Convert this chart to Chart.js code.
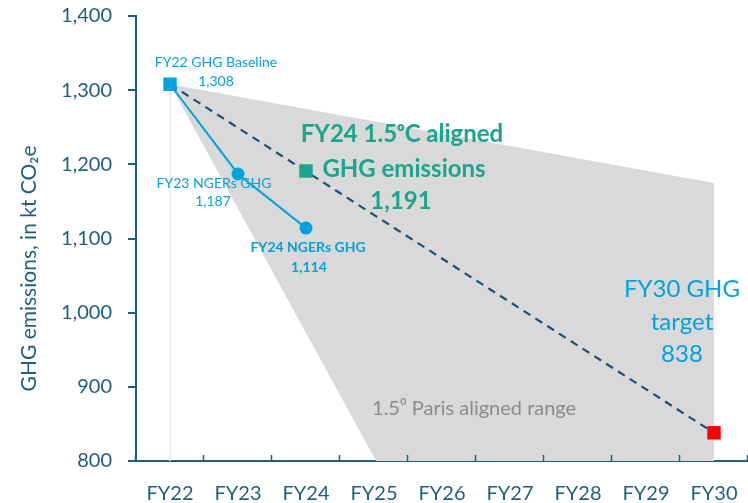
<!DOCTYPE html>
<html>
<head>
<meta charset="utf-8">
<script src="https://cdn.jsdelivr.net/npm/chart.js@4"></script>
<style>
  html, body { margin: 0; padding: 0; background: #fff; }
  #wrap { width: 748px; height: 503px; }
</style>
</head>
<body>
<div id="wrap"><canvas id="ghgChart" width="748" height="503"></canvas></div>
<script>
// categories
const fyLabels = ['FY22', 'FY23', 'FY24', 'FY25', 'FY26', 'FY27', 'FY28', 'FY29', 'FY30'];

// reported NGERs emissions, FY22..FY24
const ngersValues = [1308, 1187, 1114];
// 1.5C aligned pathway (FY22 baseline -> FY30 target)
const pathwayFY = ['FY22', 'FY30'];
const pathwayValues = [1308, 838];
const fy24Aligned = 1191;
const fy30Target = 838;

// 1.5 Paris aligned range (outline, x in category index)
const parisX = [0, 8, 8, 3.03, 0];
const parisY = [1308, 1175, 800, 800, 1308];

// y ticks
const yTicks = [800, 900, 1000, 1100, 1200, 1300, 1400];

const axisColor = '#1d5f80';
const lightBlue = '#00a3e0';
const green = '#1aa58e';

const idx = fy => fyLabels.indexOf(fy);
const fmt = v => v.toLocaleString('en-US');

const annotations = {
    id: 'annotations',
    afterDatasetsDraw(chart) {
        const {ctx, scales: {x, y}, chartArea} = chart;
        const px = (i, v) => [x.getPixelForValue(i), y.getPixelForValue(v)];
        const text = (str, cx, cy, font, color, align) => {
            ctx.font = font;
            ctx.fillStyle = color;
            ctx.textAlign = align || 'center';
            ctx.textBaseline = 'middle';
            ctx.fillText(str, cx, cy);
        };
        ctx.save();
        let [bx, by] = px(0, ngersValues[0]);
        text('FY22 GHG Baseline', bx + 46, by - 22, '14px Lato', lightBlue);
        text(fmt(ngersValues[0]), bx + 46, by - 3, '14px Lato', lightBlue);

        let [ax, ay] = px(1, ngersValues[1]);
        text('FY23 NGERs GHG', ax - 24, ay + 10, '14px Lato', lightBlue);
        text(fmt(ngersValues[1]), ax - 25, ay + 28, '14px Lato', lightBlue);

        let [cx, cy] = px(2, ngersValues[2]);
        text('FY24 NGERs GHG', cx + 2, cy + 19, 'bold 14px Lato', lightBlue);
        text(fmt(ngersValues[2]), cx + 3, cy + 39, 'bold 14px Lato', lightBlue);

        let [gx, gy] = px(2, fy24Aligned);
        text('FY24 1.5\u1D52C aligned', gx + 96, gy - 37, 'bold 24px Lato', green);
        text('GHG emissions', gx + 98, gy - 2, 'bold 24px Lato', green);
        text(fmt(fy24Aligned), gx + 95, gy + 30, 'bold 24px Lato', green);

        let [tx, ty] = px(8, fy30Target);
        text('FY30 GHG', tx - 32, ty - 144, '24px Lato', lightBlue);
        text('target', tx - 32, ty - 111, '24px Lato', lightBlue);
        text(String(fy30Target), tx - 32, ty - 79, '24px Lato', lightBlue);

        let [rx, ry] = px(parisX[3], parisY[3]);
        text('1.5\u2070 Paris aligned range', rx - 4, ry - 52, '20px Lato', '#8c8c8c', 'left');

        // x axis tick marks, pointing up between categories
        ctx.strokeStyle = axisColor;
        ctx.lineWidth = 1.5;
        for (let i = 0; i <= fyLabels.length; i++) {
            const xx = Math.round(x.getPixelForValue(i - 0.5)) - 0.5;
            ctx.beginPath();
            ctx.moveTo(xx, chartArea.bottom);
            ctx.lineTo(xx, chartArea.bottom - 6);
            ctx.stroke();
        }

        // y axis title
        ctx.translate(y.left + 29, (chartArea.top + chartArea.bottom) / 2 + 30);
        ctx.rotate(-Math.PI / 2);
        text('GHG emissions, in kt CO\u2082e', 0, 0, '21px Lato', axisColor);
        ctx.restore();
    }
};

const ctx = document.getElementById('ghgChart').getContext('2d');
const chart = new Chart(ctx, {
    type: 'line',
    data: {
        datasets: [
            {
                label: 'FY22 baseline',
                data: [{x: 0, y: ngersValues[0]}],
                pointStyle: 'rect',
                pointRadius: 9.5,
                backgroundColor: lightBlue,
                borderWidth: 0,
                showLine: false,
                order: 0
            },
            {
                label: 'FY24 1.5C aligned',
                data: [{x: idx('FY24'), y: fy24Aligned}],
                pointStyle: 'rect',
                pointRadius: 9.5,
                backgroundColor: green,
                borderWidth: 0,
                showLine: false,
                order: 0
            },
            {
                label: 'FY30 target',
                data: [{x: idx('FY30'), y: fy30Target}],
                pointStyle: 'rect',
                pointRadius: 9.5,
                backgroundColor: '#ff0000',
                borderWidth: 0,
                showLine: false,
                order: 0
            },
            {
                label: 'NGERs GHG',
                data: ngersValues.map((v, i) => ({x: i, y: v})),
                borderColor: lightBlue,
                backgroundColor: lightBlue,
                borderWidth: 2,
                pointStyle: 'circle',
                pointRadius: [0, 6.5, 6.5],
                pointBorderWidth: 0,
                order: 1
            },
            {
                label: '1.5C pathway',
                data: pathwayFY.map((fy, i) => ({x: idx(fy), y: pathwayValues[i]})),
                borderColor: '#1b5073',
                borderWidth: 2.2,
                borderDash: [8, 6],
                pointRadius: 0,
                order: 2
            },
            {
                label: 'baseline guide',
                data: [{x: 0, y: ngersValues[0]}, {x: 0, y: 800}],
                borderColor: '#ececec',
                borderWidth: 1,
                pointRadius: 0,
                order: 3
            },
            {
                label: 'Paris aligned range',
                data: parisX.map((v, i) => ({x: v, y: parisY[i]})),
                borderWidth: 0,
                borderColor: 'rgba(0,0,0,0)',
                backgroundColor: '#d9d9d9',
                fill: 'shape',
                pointRadius: 0,
                order: 10
            }
        ]
    },
    options: {
        responsive: false,
        animation: false,
        layout: { autoPadding: false, padding: { top: 16, right: 0, left: 0, bottom: 0 } },
        plugins: {
            legend: { display: false },
            tooltip: { enabled: false }
        },
        scales: {
            x: {
                type: 'linear',
                min: -0.5,
                max: 8.5,
                afterBuildTicks: scale => {
                    scale.ticks = fyLabels.map((_, i) => ({value: i}));
                },
                afterFit: scale => {
                    scale.height = 42;
                    scale.paddingLeft = 0;
                    scale.paddingRight = 0;
                },
                ticks: {
                    callback: v => fyLabels[v],
                    color: axisColor,
                    font: { family: 'Lato', size: 20 },
                    padding: 2,
                    maxRotation: 0,
                    autoSkip: false
                },
                grid: { drawOnChartArea: false, drawTicks: true, tickLength: 19, color: 'rgba(0,0,0,0)' },
                border: { color: axisColor, width: 2 }
            },
            y: {
                min: 800,
                max: 1400,
                afterBuildTicks: scale => {
                    scale.ticks = yTicks.map(v => ({value: v}));
                },
                afterFit: scale => {
                    scale.width = 136;
                    scale.paddingTop = 0;
                    scale.paddingBottom = 0;
                },
                ticks: {
                    callback: v => fmt(v),
                    color: axisColor,
                    font: { family: 'Lato', size: 20 },
                    padding: 16
                },
                grid: { drawOnChartArea: false, tickLength: 8, color: axisColor, lineWidth: 2 },
                border: { color: axisColor, width: 2 }
            }
        }
    },
    plugins: [annotations]
});
</script>
</body>
</html>
